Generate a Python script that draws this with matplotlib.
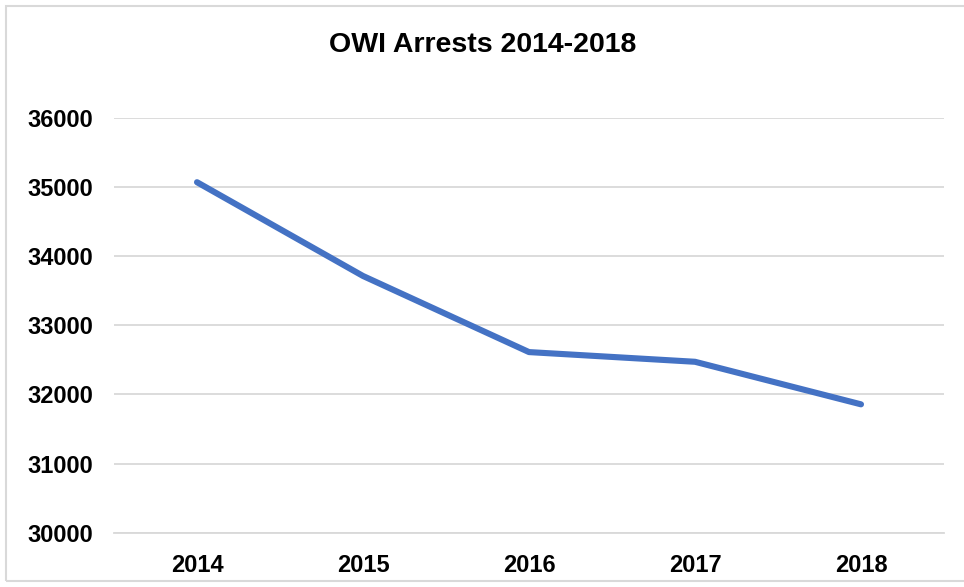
import matplotlib
matplotlib.use("Agg")
import matplotlib.pyplot as plt
from matplotlib.patches import Rectangle

years = ["2014", "2015", "2016", "2017", "2018"]
arrests = [35065, 33710, 32610, 32470, 31855]
yticks = [30000, 31000, 32000, 33000, 34000, 35000, 36000]
title = "OWI Arrests 2014-2018"

plt.rcParams['font.family'] = ['Liberation Sans', 'DejaVu Sans']

fig = plt.figure(figsize=(9.64, 5.87), dpi=100)
ax = fig.add_axes([114/964, 54.3/587, 830/964, 415.2/587])

x = list(range(len(years)))
ax.plot(x, arrests, color="#4472C4", linewidth=4.4, solid_capstyle="round",
        solid_joinstyle="round", zorder=3)

ax.set_xlim(-0.5, len(years) - 0.5)
ax.set_ylim(yticks[0], yticks[-1])
ax.set_yticks(yticks)
ax.set_yticklabels([str(v) for v in yticks])
ax.set_xticks(x)
ax.set_xticklabels(years)

ax.grid(axis="y", color="#d9d9d9", linewidth=1.3)
ax.set_axisbelow(True)
for s in ["top", "right", "left"]:
    ax.spines[s].set_visible(False)
ax.spines["bottom"].set_color("#d9d9d9")
ax.spines["bottom"].set_linewidth(1.3)
ax.tick_params(axis="y", length=0, labelsize=17, pad=15)
ax.tick_params(axis="x", length=0, labelsize=17, pad=15)
for lbl in ax.get_xticklabels() + ax.get_yticklabels():
    lbl.set_fontweight("bold")

fig.text(483/964, 1 - 45/587, title, ha="center", va="center",
         fontsize=20.5, fontweight="bold")

fig.patches.append(Rectangle((6/964, 6/587), 970/964, 575/587,
                             transform=fig.transFigure, fill=False,
                             edgecolor="#d9d9d9", linewidth=1.5))

fig.savefig("out.png", dpi=100)
